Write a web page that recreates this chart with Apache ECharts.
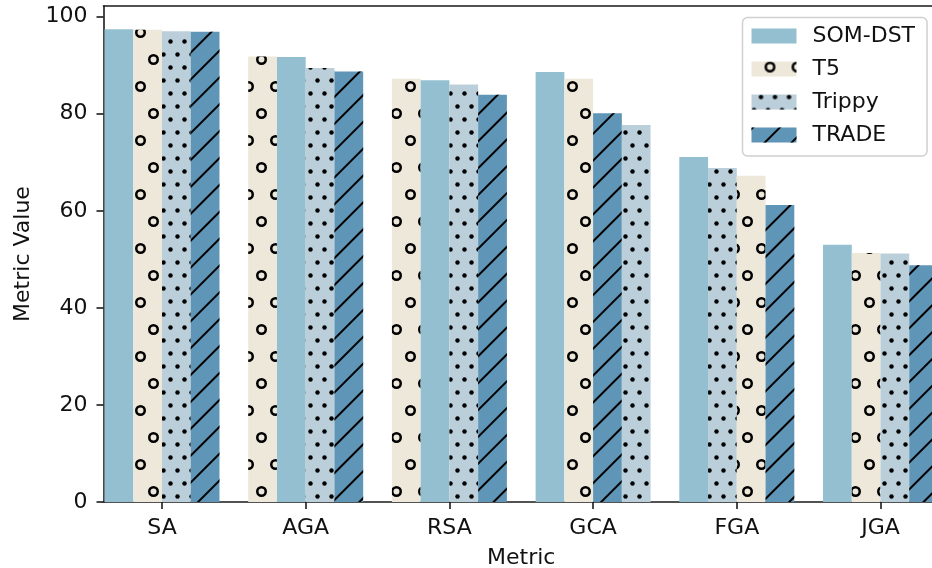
<!DOCTYPE html>
<html><head><meta charset="utf-8">
<script src="https://cdn.jsdelivr.net/npm/echarts@6/dist/echarts.min.js"></script>
<style>html,body{margin:0;padding:0;background:#fff}#c{width:932px;height:568px}</style>
</head><body><div id="c"></div>
<script>
// ---- data ----
const categories = ['SA', 'AGA', 'RSA', 'GCA', 'FGA', 'JGA'];
const models = ['SOM-DST', 'T5', 'Trippy', 'TRADE'];
const somDst = [97.4, 91.7, 86.9, 88.6, 71.1, 53.0];
const t5     = [97.3, 91.8, 87.2, 87.2, 67.2, 51.3];
const trippy = [97.0, 89.4, 86.0, 77.7, 68.8, 51.2];
const trade  = [96.9, 88.7, 83.9, 80.1, 61.2, 48.8];
const yTicks = [0, 20, 40, 60, 80, 100];
const xTicks = [0, 1, 2, 3, 4, 5];

// ---- styles ----
const FONT = 'DejaVu Sans';
const FS = 22;
const ring = 'path://M0,10A10,10,0,1,1,20,10A10,10,0,1,1,0,10ZM4.6,10A5.4,5.4,0,1,0,15.4,10A5.4,5.4,0,1,0,4.6,10Z';
const styles = [
  { color: '#93BFD1' },
  { color: '#EEE8DB', decal: { symbol: ring, symbolSize: 1, color: '#000', dashArrayX: [[11, 16], [0, 13, 11, 3]], dashArrayY: [11, 16] } },
  { color: '#BBCFDA', decal: { symbol: 'circle', symbolSize: 0.9, color: '#000', dashArrayX: [[5, 9], [0, 7, 5, 2]], dashArrayY: [5, 8] } },
  { color: '#5F95B6', decal: { symbol: 'rect', symbolSize: 1, color: '#000', dashArrayX: [10, 0], dashArrayY: [2, 17], rotation: -Math.PI / 4 } }
];

const values = [somDst, t5, trippy, trade];
// within each group bars are ordered by value, descending
const order = categories.map((c, i) => models.map((m, k) => k).sort((a, b) => values[b][i] - values[a][i]));

const slotSeries = [0, 1, 2, 3].map(s => ({
  type: 'bar', name: 'slot' + s, xAxisIndex: 0, yAxisIndex: 0,
  barGap: 0, barCategoryGap: '20%', silent: true,
  data: categories.map((c, i) => {
    const k = order[i][s];
    return { value: [i, values[k][i]], itemStyle: styles[k] };
  })
}));
const legendSeries = models.map((m, k) => ({
  type: 'bar', name: m, xAxisIndex: 1, yAxisIndex: 0, data: [], itemStyle: styles[k]
}));

const axisLine = { show: true, onZero: false, lineStyle: { color: '#1a1a1a', width: 1.6 } };
const chart = echarts.init(document.getElementById('c'), null, { renderer: 'canvas' });
chart.setOption({
  animation: false,
  textStyle: { fontFamily: FONT },
  grid: { left: 103.5, right: -7, top: 6, bottom: 66, containLabel: false, outerBoundsMode: 'none' },
  xAxis: [{
    type: 'value', min: -0.407, max: 5.407, position: 'bottom',
    name: 'Metric', nameLocation: 'middle', nameGap: 45,
    nameTextStyle: { fontFamily: FONT, fontSize: FS, color: '#111' },
    axisLine: axisLine, splitLine: { show: false },
    axisTick: { show: true, length: 7, lineStyle: { color: '#1a1a1a', width: 1.6 }, customValues: xTicks },
    axisLabel: { customValues: xTicks, margin: 15, fontFamily: FONT, fontSize: FS, color: '#111',
      formatter: v => categories[Math.round(v)] }
  }, {
    type: 'value', position: 'top', min: 0, max: 1, show: true,
    axisLine: axisLine, axisTick: { show: false }, axisLabel: { show: false }, splitLine: { show: false }
  }],
  yAxis: [{
    type: 'value', min: 0, max: 102.2, position: 'left',
    name: 'Metric Value', nameLocation: 'middle', nameGap: 67,
    nameTextStyle: { fontFamily: FONT, fontSize: FS, color: '#111' },
    axisLine: axisLine, splitLine: { show: false },
    axisTick: { show: true, length: 7, lineStyle: { color: '#1a1a1a', width: 1.6 }, customValues: yTicks },
    axisLabel: { customValues: yTicks, margin: 16, fontFamily: FONT, fontSize: FS, color: '#111' }
  }],
  legend: {
    data: models, orient: 'vertical', left: 742.5, top: 17.5,
    icon: 'rect', itemWidth: 45, itemHeight: 15, itemGap: 11,
    padding: [7.5, 12, 10, 9],
    backgroundColor: '#fff', borderColor: '#d0d0d0', borderWidth: 1.5, borderRadius: 5,
    textStyle: { fontFamily: FONT, fontSize: FS, color: '#111', lineHeight: 22, padding: [0, 0, 0, 11] },
    selectedMode: false
  },
  series: slotSeries.concat(legendSeries)
});
</script>
</body></html>
